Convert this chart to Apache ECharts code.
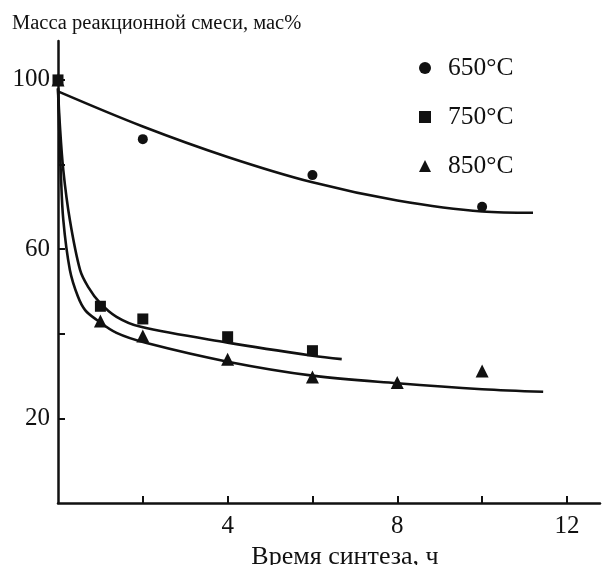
<!DOCTYPE html>
<html>
<head>
<meta charset="utf-8">
<script src="https://cdn.jsdelivr.net/npm/echarts@6/dist/echarts.min.js"></script>
<style>
html,body{margin:0;padding:0;background:#fff;}
#chart{width:602px;height:565px;}
</style>
</head>
<body>
<div id="chart"></div>
<script>
// Measured points (time, h ; mass, wt%)
const pts650 = [[0, 100], [2, 86], [6, 77.5], [10, 70]];
const pts750 = [[0, 100], [1, 46.5], [2, 43.5], [4, 39.3], [6, 36]];
const pts850 = [[0, 100], [1, 43], [2, 39.5], [4, 34], [6, 29.8], [8, 28.5], [10, 31.2]];

// Fitted curves
const curve650 = [[0, 97.3], [2, 89], [4, 81.8], [6, 75.8], [8, 71.5], [10, 68.9], [11.2, 68.6]];
const curve750 = [[0, 98], [0.04, 90], [0.125, 78.7], [0.28, 66.9], [0.52, 55.1], [0.71, 51.1], [0.99, 47.3], [1.38, 44.0], [1.93, 41.7], [4, 37.9], [6, 34.8], [6.69, 34.0]];
const curve850 = [[0, 98], [0.03, 88], [0.064, 78.7], [0.125, 66.9], [0.28, 55.1], [0.47, 48.8], [0.64, 45.6], [0.91, 43.3], [1.38, 40.2], [2.09, 37.8], [4, 33.4], [6, 30.1], [8, 28.3], [10, 26.9], [11.44, 26.3]];

const seriesNames = ['650°C', '750°C', '850°C'];
const xTicks = [2, 4, 6, 8, 10, 12];
const xLabels = [4, 8, 12];
const yTicks = [20, 40, 60, 80, 100];
const yLabels = [20, 60, 100];

const ink = '#111111';
const serif = '"Liberation Serif", "DejaVu Serif", serif';

const chart = echarts.init(document.getElementById('chart'), null, {renderer: 'canvas'});

function curveSeries(data) {
  return {
    type: 'line', data: data, smooth: 0.35,
    symbol: 'none', silent: true, clip: false,
    lineStyle: {color: ink, width: 2.6}, z: 2
  };
}
function pointSeries(name, data, symbol, size) {
  return {
    name: name, type: 'scatter', data: data, symbol: symbol, symbolSize: size,
    itemStyle: {color: ink, opacity: 1}, clip: false, z: 3
  };
}

chart.setOption({
  animation: false,
  backgroundColor: '#fff',
  title: {
    text: 'Масса реакционной смеси, мас%',
    left: 7, top: 8,
    textStyle: {fontFamily: serif, fontSize: 20.5, fontWeight: 'normal', color: ink}
  },
  legend: {
    orient: 'vertical', left: 414, top: 50,
    itemWidth: 12, itemHeight: 12, itemGap: 23,
    data: [
      {name: seriesNames[0], icon: 'circle'},
      {name: seriesNames[1], icon: 'rect'},
      {name: seriesNames[2], icon: 'triangle'}
    ],
    itemStyle: {opacity: 1},
    textStyle: {fontFamily: serif, fontSize: 25.5, color: ink, lineHeight: 26, padding: [0, 0, 0, 12]}
  },
  grid: {left: 58, right: 2, top: 41, bottom: 62, containLabel: false, outerBoundsMode: 'none'},
  xAxis: {
    type: 'value', min: 0, max: 12.78,
    name: 'Время синтеза, ч', nameLocation: 'middle', nameGap: 36,
    nameTextStyle: {fontFamily: serif, fontSize: 26, color: ink, padding: [0, 0, 0, 32]},
    axisLine: {show: true, lineStyle: {color: ink, width: 2.5}},
    axisTick: {show: true, inside: true, length: 7, customValues: xTicks, lineStyle: {color: ink, width: 2}},
    axisLabel: {customValues: xLabels, fontFamily: serif, fontSize: 25, color: ink, margin: 11},
    splitLine: {show: false}
  },
  yAxis: {
    type: 'value', min: 0, max: 109.2,
    axisLine: {show: true, lineStyle: {color: ink, width: 2.5}},
    axisTick: {show: true, inside: true, length: 7, customValues: yTicks, lineStyle: {color: ink, width: 2}},
    axisLabel: {customValues: yLabels, fontFamily: serif, fontSize: 25, color: ink, margin: 8, padding: [4, 0, 0, 0]},
    splitLine: {show: false}
  },
  series: [
    curveSeries(curve650),
    curveSeries(curve750),
    curveSeries(curve850),
    pointSeries(seriesNames[0], pts650, 'circle', 10),
    pointSeries(seriesNames[1], pts750, 'rect', 11),
    pointSeries(seriesNames[2], pts850, 'triangle', 13)
  ]
});
</script>
</body>
</html>
